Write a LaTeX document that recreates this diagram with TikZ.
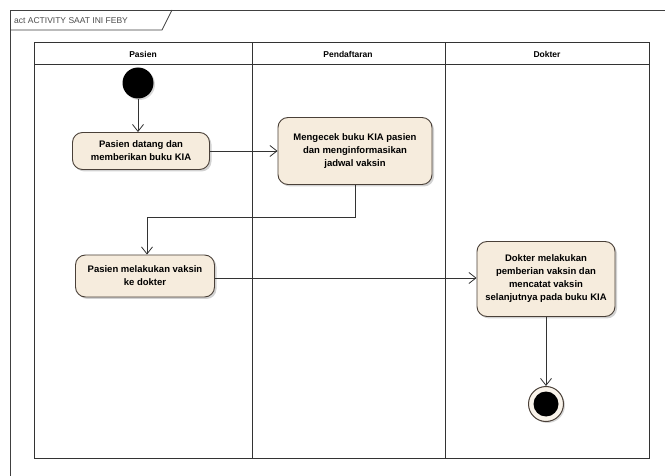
\documentclass[tikz,border=0pt]{standalone}
\usepackage{fontspec}
\setmainfont{Liberation Sans}
\usetikzlibrary{arrows.meta,shadows}
\definecolor{actfill}{HTML}{F6ECDD}
\definecolor{actdraw}{HTML}{4A4038}
\definecolor{linec}{HTML}{333333}
\tikzset{
  act/.style={draw=actdraw, line width=0.9pt, rounded corners=10pt, fill=actfill,
    drop shadow={shadow xshift=2pt, shadow yshift=-2pt, opacity=0.35, fill=gray},
    align=center, font=\fontsize{9.5}{13}\selectfont\bfseries, inner sep=2pt},
  flow/.style={draw=linec, line width=0.8pt, -{Straight Barb[length=7pt,width=11pt,line width=0.8pt]}},
  lane/.style={draw=black!80, line width=1pt},
  hdr/.style={font=\fontsize{8.5}{10}\selectfont\bfseries},
}
\begin{document}
\begin{tikzpicture}[x=1pt,y=-1pt]
\useasboundingbox (0,0) rectangle (665,476);
\fill[white] (0,0) rectangle (665,476);
% outer frame
\draw[line width=0.8pt, black!75] (10,476) -- (10,10) -- (665,10);
\draw[line width=0.8pt, black!75] (10,30) -- (162,30) -- (172,10);
\node[anchor=west, font=\fontsize{8.5}{10}\selectfont, text=black!70, inner sep=0pt] (title) at (14,20.5) {act ACTIVITY SAAT INI FEBY};
% swimlanes
\draw[lane] (34,43) rectangle (649,458);
\draw[lane] (34,65) -- (649,65);
\draw[lane] (252,43) -- (252,458);
\draw[lane] (445,43) -- (445,458);
\node[hdr] (h1) at (143,54) {Pasien};
\node[hdr] (h2) at (348,54) {Pendaftaran};
\node[hdr] (h3) at (547,54) {Dokter};
% nodes
\node[circle, fill=black, minimum size=31pt, inner sep=0pt,
  drop shadow={shadow xshift=1.5pt, shadow yshift=-1.5pt, opacity=0.3, fill=gray}] (start) at (138,83) {};
\node[act, minimum width=137pt, minimum height=37pt] (a1) at (141,151) {Pasien datang dan\\memberikan buku KIA};
\node[act, minimum width=154pt, minimum height=67pt] (a2) at (355,151) {Mengecek buku KIA pasien\\dan menginformasikan\\jadwal vaksin};
\node[act, minimum width=139pt, minimum height=42pt] (a3) at (145,276) {Pasien melakukan vaksin\\ke dokter};
\node[act, minimum width=138pt, minimum height=75pt] (a4) at (546,279) {Dokter melakukan\\pemberian vaksin dan\\mencatat vaksin\\selanjutnya pada buku KIA};
\node[circle, draw=actdraw, line width=1pt, fill=actfill!60, minimum size=35pt, inner sep=0pt,
  drop shadow={shadow xshift=1.5pt, shadow yshift=-1.5pt, opacity=0.3, fill=gray}] (end) at (546,404) {};
\node[circle, fill=black, minimum size=25pt, inner sep=0pt] (endin) at (end.center) {};
% flows
\draw[flow] (start) -- (a1.north -| start);
\draw[flow] (a1.east |- 0,151) -- (a2.west |- 0,151);
\coordinate (b1) at (355,217);
\coordinate (b2) at (147,217);
\draw[flow] (a2.south) -- (b1) -- (b2) -- (a3.north -| b2);
\draw[flow] (a3.east |- 0,278) -- (a4.west |- 0,278);
\draw[flow] (a4.south) -- (end.north);
\end{tikzpicture}
\end{document}
